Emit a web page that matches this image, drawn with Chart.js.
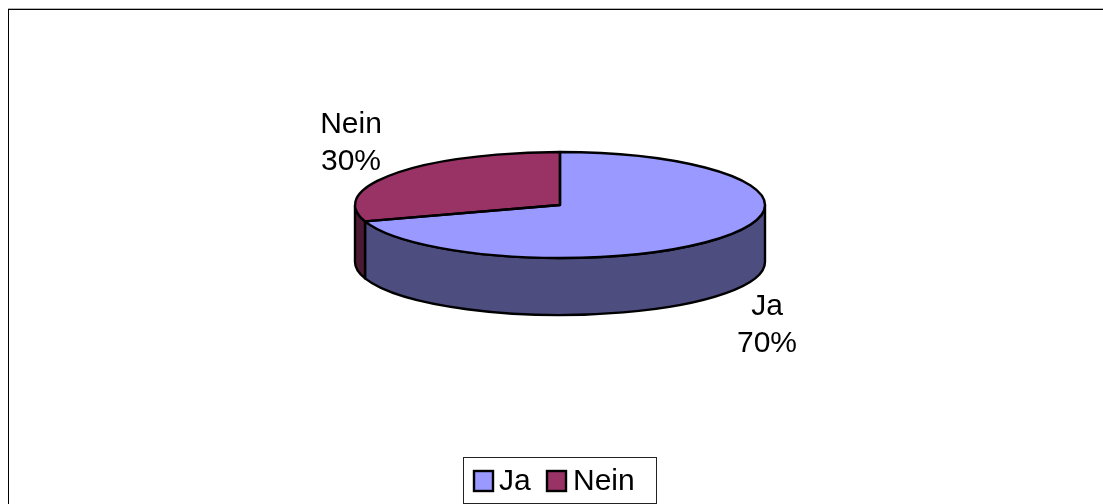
<!DOCTYPE html>
<html>
<head>
<meta charset="utf-8">
<style>html,body{margin:0;padding:0;background:#fff;overflow:hidden}canvas{display:block}</style>
<script src="https://cdn.jsdelivr.net/npm/chart.js@4"></script>
</head>
<body>
<div style="width:1103px;height:504px"><canvas id="c" width="1103" height="504"></canvas></div>
<script>
const categories = ['Ja', 'Nein'];
const values = [70, 30];
const topColors = ['#9999FF', '#993366'];
const sideColors = ['#4D4D80', '#4D1A33'];
const labelCenters = [[767, 307], [351, 125]];

const SQUASH = 53 / 205, DEPTH = 57, FONT = '30px "Liberation Sans"', PEN = 2.4;
const squash = (ctx, a) => { ctx.translate(a.x, a.y); ctx.scale(1, SQUASH); };

const pie3d = {
  id: 'pie3d',
  beforeDraw(chart) {
    const ctx = chart.ctx;
    ctx.save();
    ctx.fillStyle = '#fff'; ctx.fillRect(0, 0, 1103, 504);
    ctx.fillStyle = '#b4b4b4'; ctx.fillRect(8, 8, 1095, 1);
    ctx.fillStyle = '#000'; ctx.fillRect(8, 9, 1095, 1); ctx.fillRect(8, 9, 1, 495);
    ctx.restore();
  },
  beforeDatasetsDraw(chart) {
    const ctx = chart.ctx, arcs = chart.getDatasetMeta(0).data;
    // side wall: only the part of each slice's rim facing the viewer
    arcs.forEach((a, i) => {
      const s = Math.max(norm(a.startAngle), 0), e = Math.min(normEnd(a), Math.PI);
      if (e <= s) return;
      ctx.save();
      ctx.beginPath();
      ctx.save(); squash(ctx, a); ctx.arc(0, 0, a.outerRadius, s, e); ctx.restore();
      ctx.save(); ctx.translate(0, DEPTH); squash(ctx, a); ctx.arc(0, 0, a.outerRadius, e, s, true); ctx.restore();
      ctx.closePath();
      ctx.fillStyle = sideColors[i]; ctx.fill();
      ctx.lineWidth = PEN; ctx.lineJoin = 'round'; ctx.strokeStyle = '#000'; ctx.stroke();
      ctx.restore();
    });
    ctx.save();
    squash(ctx, arcs[0]);
    ctx.translate(-arcs[0].x, -arcs[0].y);
  },
  afterDatasetsDraw(chart) {
    const ctx = chart.ctx, arcs = chart.getDatasetMeta(0).data;
    ctx.restore();
    // outlines are stroked in unsquashed space so the pen stays round
    arcs.forEach(a => {
      ctx.save();
      ctx.beginPath();
      ctx.save(); squash(ctx, a); ctx.moveTo(0, 0); ctx.arc(0, 0, a.outerRadius, a.startAngle, a.endAngle); ctx.closePath(); ctx.restore();
      ctx.lineWidth = PEN; ctx.lineJoin = 'round'; ctx.strokeStyle = '#000'; ctx.stroke();
      ctx.restore();
    });
  },
  afterDraw(chart) {
    const ctx = chart.ctx, total = values.reduce((p, v) => p + v, 0);
    ctx.save();
    ctx.font = FONT; ctx.fillStyle = '#000'; ctx.textBaseline = 'middle'; ctx.textAlign = 'center';
    categories.forEach((c, i) => {
      const [x, y] = labelCenters[i];
      ctx.fillText(c, x, y);
      ctx.fillText(Math.round(values[i] / total * 100) + '%', x, y + 37);
    });
    // legend
    ctx.fillStyle = '#fff'; ctx.fillRect(463.5, 457.5, 193, 46);
    ctx.strokeStyle = '#222'; ctx.lineWidth = 1; ctx.strokeRect(463.5, 457.5, 193, 46);
    ctx.textAlign = 'left';
    const swatchX = [474, 547], textX = [499, 573];
    categories.forEach((c, i) => {
      ctx.fillStyle = topColors[i]; ctx.fillRect(swatchX[i], 471, 19, 20);
      ctx.lineWidth = PEN; ctx.strokeStyle = '#000'; ctx.strokeRect(swatchX[i], 471, 19, 20);
      ctx.fillStyle = '#000'; ctx.fillText(c, textX[i], 482);
    });
    ctx.restore();
  }
};
function norm(a) { let x = a; while (x < -Math.PI) x += 2 * Math.PI; return x; }
function normEnd(a) { return norm(a.startAngle) + (a.endAngle - a.startAngle); }

new Chart(document.getElementById('c'), {
  type: 'pie',
  data: { labels: categories, datasets: [{ data: values, backgroundColor: topColors, borderWidth: 0, radius: 205 }] },
  options: {
    responsive: false, animation: false,
    layout: { padding: { left: 17, top: 0, right: 0, bottom: 94 } },
    plugins: { legend: { display: false }, tooltip: { enabled: false } }
  },
  plugins: [pie3d]
});
</script>
</body>
</html>
